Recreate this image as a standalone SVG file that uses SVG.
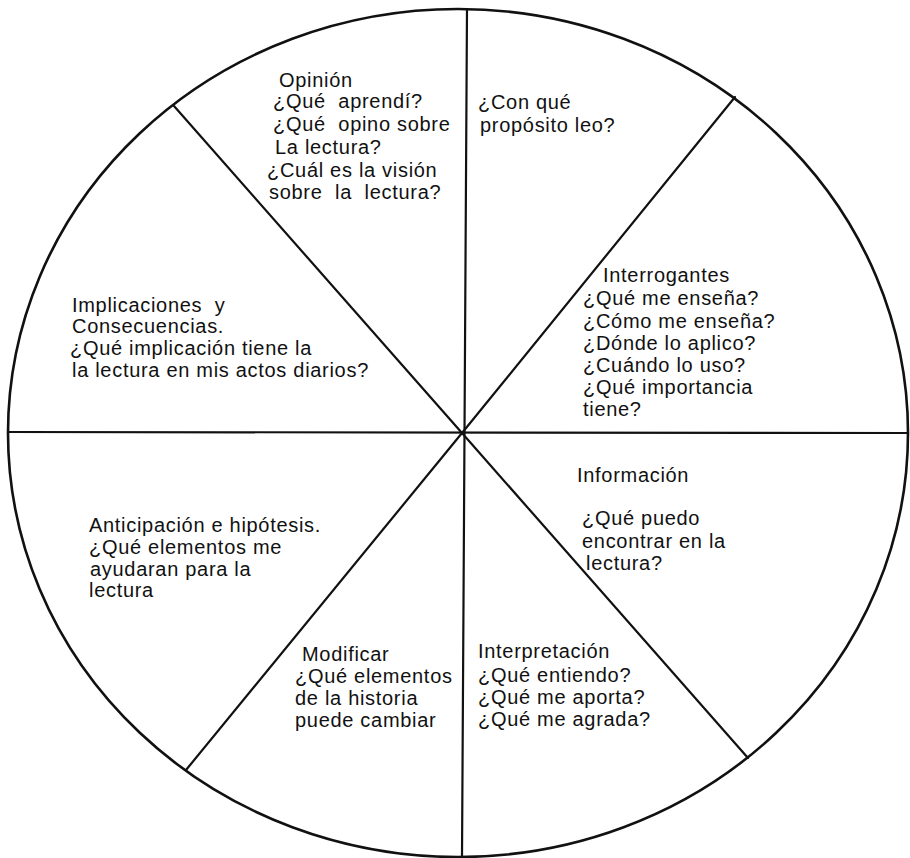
<svg xmlns="http://www.w3.org/2000/svg" width="910" height="858" viewBox="0 0 910 858">
<style>
.t{font-family:"Liberation Sans",Arial,sans-serif;font-size:20px;letter-spacing:0.7px;fill:#111;white-space:pre}
.ln{stroke:#111;stroke-width:2.2;fill:none;stroke-linecap:round}
</style>
<rect width="910" height="858" fill="#fff"/>
<g id="wheel">
<ellipse cx="458" cy="433" rx="450" ry="424" fill="none" stroke="#111" stroke-width="2.6"/>
</g>
<g id="connectors">
<line class="ln" x1="467" y1="9" x2="462" y2="857"/>
<line class="ln" x1="8" y1="432" x2="908" y2="433"/>
<line class="ln" x1="174" y1="106" x2="462" y2="433"/>
<line class="ln" x1="735" y1="97" x2="462" y2="433"/>
<line class="ln" x1="186" y1="770" x2="462" y2="433"/>
<line class="ln" x1="748" y1="758" x2="462" y2="433"/>
</g>
<g id="opinion" class="t">
<text class="t" x="279" y="87">Opinión</text>
<text class="t" x="273" y="108">¿Qué  aprendí?</text>
<text class="t" x="273" y="131">¿Qué  opino sobre</text>
<text class="t" x="275" y="154">La lectura?</text>
<text class="t" x="267" y="177">¿Cuál es la visión</text>
<text class="t" x="269" y="199">sobre  la  lectura?</text>
</g>
<g id="proposito">
<text class="t" x="478" y="109">¿Con qué</text>
<text class="t" x="480" y="132">propósito leo?</text>
</g>
<g id="interrogantes">
<text class="t" x="603" y="282">Interrogantes</text>
<text class="t" x="583" y="305">¿Qué me enseña?</text>
<text class="t" x="583" y="328">¿Cómo me enseña?</text>
<text class="t" x="583" y="350">¿Dónde lo aplico?</text>
<text class="t" x="583" y="372">¿Cuándo lo uso?</text>
<text class="t" x="583" y="394">¿Qué importancia</text>
<text class="t" x="583" y="416">tiene?</text>
</g>
<g id="informacion">
<text class="t" x="577" y="482">Información</text>
<text class="t" x="582" y="525">¿Qué puedo</text>
<text class="t" x="582" y="548">encontrar en la</text>
<text class="t" x="586" y="570">lectura?</text>
</g>
<g id="implicaciones">
<text class="t" x="72" y="312">Implicaciones  y</text>
<text class="t" x="72" y="333">Consecuencias.</text>
<text class="t" x="70" y="355">¿Qué implicación tiene la</text>
<text class="t" x="72" y="377">la lectura en mis actos diarios?</text>
</g>
<g id="anticipacion">
<text class="t" x="89" y="532">Anticipación e hipótesis.</text>
<text class="t" x="89" y="554">¿Qué elementos me</text>
<text class="t" x="90" y="576">ayudaran para la</text>
<text class="t" x="89" y="597">lectura</text>
</g>
<g id="modificar">
<text class="t" x="302" y="661">Modificar</text>
<text class="t" x="295" y="683">¿Qué elementos</text>
<text class="t" x="295" y="705">de la historia</text>
<text class="t" x="295" y="727">puede cambiar</text>
</g>
<g id="interpretacion">
<text class="t" x="478" y="658">Interpretación</text>
<text class="t" x="478" y="682">¿Qué entiendo?</text>
<text class="t" x="478" y="704">¿Qué me aporta?</text>
<text class="t" x="478" y="726">¿Qué me agrada?</text>
</g>
</svg>
